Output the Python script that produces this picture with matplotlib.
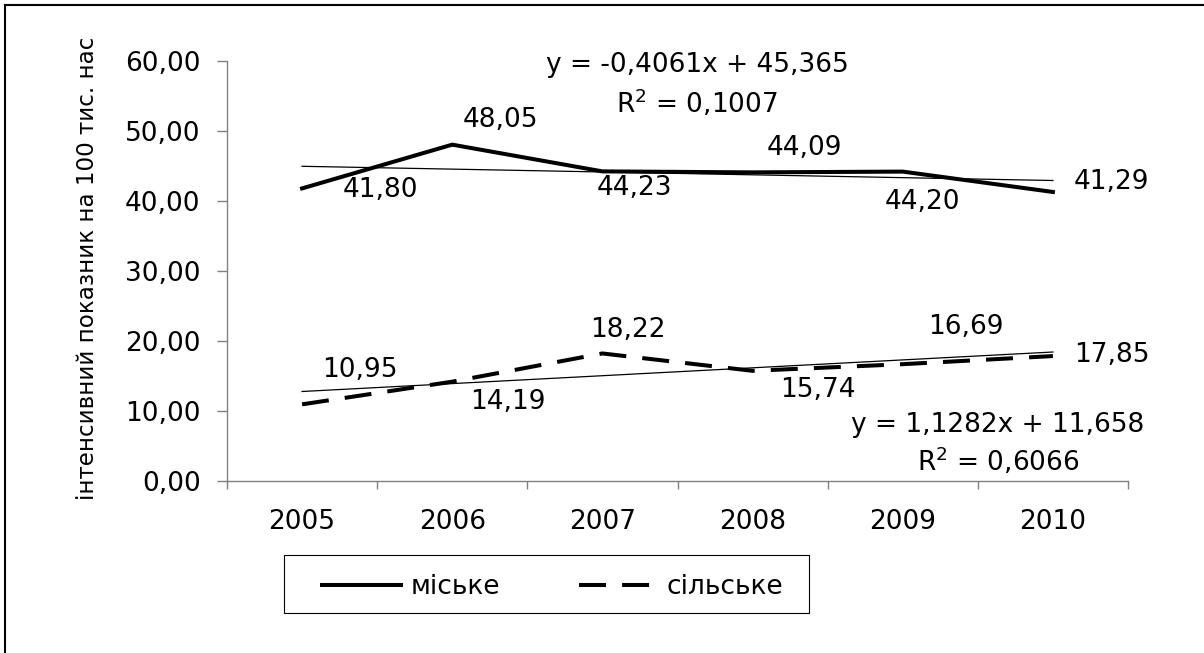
import matplotlib
matplotlib.use("Agg")
import matplotlib.pyplot as plt
from matplotlib.lines import Line2D
from matplotlib.patches import Rectangle
import numpy as np

plt.rcParams['font.family'] = ['DejaVu Sans']
plt.rcParams['mathtext.fontset'] = 'dejavusans'

# ---- data ----
years = ["2005", "2006", "2007", "2008", "2009", "2010"]
urban = [41.80, 48.05, 44.23, 44.09, 44.20, 41.29]
rural = [10.95, 14.19, 18.22, 15.74, 16.69, 17.85]
urban_trend = [-0.4061, 45.365]   # slope, intercept (x = 1..6)
rural_trend = [1.1282, 11.658]
urban_eq = "y = -0,4061x + 45,365"
rural_eq = "y = 1,1282x + 11,658"
urban_r2 = "0,1007"
rural_r2 = "0,6066"
y_ticks = [0, 10, 20, 30, 40, 50, 60]
series_names = ["міське", "сільське"]
y_label = "інтенсивний показник на 100 тис. нас"

# ---- label offsets (pixels: dx right, dy up) ----
urban_off = [(78, -2), (48, 25), (32, -17), (52, 24), (20, -30), (59, 10)]
rural_off = [(58, 34), (56, -20), (25, 23), (65, -19), (63, 37), (59, 1)]

W, H = 1204, 653
fig = plt.figure(figsize=(W / 100, H / 100), dpi=100)
FS = 19

def fx(x):
    return x / W

def fy(y):
    return 1 - y / H

ax = fig.add_axes([fx(227), fy(481), fx(1128) - fx(227), fy(61) - fy(481)])
x = np.arange(len(years))
ax.set_xlim(-0.5, len(years) - 0.5)
ax.set_ylim(0, 60)

ax.plot(x, urban, color='black', lw=2.9, solid_joinstyle='miter', zorder=3)
ax.plot(x, rural, color='black', lw=2.9, linestyle=(0, (6.7, 4.0)),
        dash_capstyle='butt', zorder=3)

xt = x + 1
ax.plot(x, urban_trend[0] * xt + urban_trend[1], color='black', lw=0.9, zorder=2)
ax.plot(x, rural_trend[0] * xt + rural_trend[1], color='black', lw=0.9, zorder=2)

def fmt(v):
    return f"{v:.2f}".replace('.', ',')

for i, v in enumerate(urban):
    dx, dy = urban_off[i]
    ax.annotate(fmt(v), (i, v), xytext=(dx * 0.72, dy * 0.72),
                textcoords='offset points', ha='center', va='center', fontsize=FS)
for i, v in enumerate(rural):
    dx, dy = rural_off[i]
    ax.annotate(fmt(v), (i, v), xytext=(dx * 0.72, dy * 0.72),
                textcoords='offset points', ha='center', va='center', fontsize=FS)

# axes styling
for s in ['top', 'right']:
    ax.spines[s].set_visible(False)
for s in ['left', 'bottom']:
    ax.spines[s].set_color('#808080')
    ax.spines[s].set_linewidth(1.0)

ax.set_yticks(y_ticks)
ax.set_yticklabels([fmt(t) for t in y_ticks], fontsize=FS)
ax.tick_params(axis='y', length=7, width=1, color='#808080', pad=12)

ax.set_xticks(np.arange(-0.5, len(years), 1.0))
ax.set_xticklabels([])
ax.tick_params(axis='x', which='major', length=6, width=1, color='#808080')
ax.set_xticks(x, minor=True)
ax.set_xticklabels(years, minor=True, fontsize=FS)
ax.tick_params(axis='x', which='minor', length=0, pad=20)

# equations
fig.text(fx(697), fy(65), urban_eq, ha='center', va='center', fontsize=FS)
fig.text(fx(697), fy(103), r"R$^2$ = " + urban_r2, ha='center', va='center', fontsize=FS)
fig.text(fx(998), fy(425), rural_eq, ha='center', va='center', fontsize=FS)
fig.text(fx(998), fy(461), r"R$^2$ = " + rural_r2, ha='center', va='center', fontsize=FS)

# y label: fit its length to the visible span of the original
yl = fig.text(fx(88), fy(500), y_label, rotation=90, ha='center', va='bottom', fontsize=17)
renderer = fig.canvas.get_renderer()
ext = yl.get_window_extent(renderer)
yl.set_fontsize(17 * 463.0 / ext.height)

# legend
fig.patches.append(Rectangle((fx(284), fy(613)), fx(809) - fx(284), fy(555) - fy(613),
                             transform=fig.transFigure, fill=False,
                             edgecolor='black', lw=0.8))
handles = [Line2D([], [], color='black', lw=2.9),
           Line2D([], [], color='black', lw=2.9, linestyle=(0, (6.7, 4.0)),
                  dash_capstyle='butt')]
fig.legend(handles, series_names, loc='center left',
           bbox_to_anchor=(fx(322), fy(587)), frameon=False, ncol=2,
           handlelength=3.0, handletextpad=0.34, columnspacing=3.0,
           borderpad=0, borderaxespad=0, fontsize=FS)

# outer frame (left and top visible)
fig.add_artist(Line2D([fx(5), fx(5)], [fy(5), 0], transform=fig.transFigure,
                      color='black', lw=1.5))
fig.add_artist(Line2D([fx(5), 1], [fy(5), fy(5)], transform=fig.transFigure,
                      color='black', lw=1.5))

fig.savefig("out.png", dpi=100)
